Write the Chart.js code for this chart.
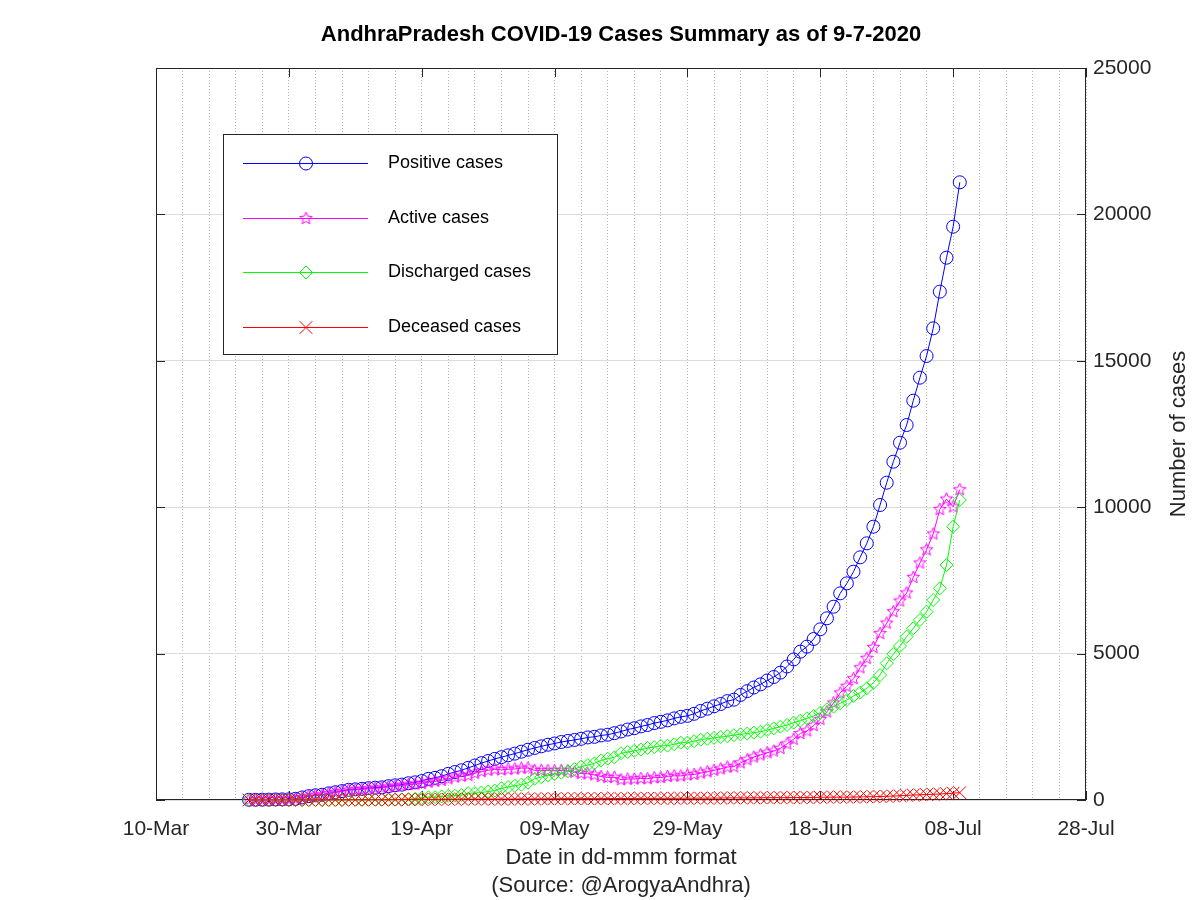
<!DOCTYPE html>
<html>
<head>
<meta charset="utf-8">
<title>AndhraPradesh COVID-19 Cases Summary</title>
<script src="https://cdn.jsdelivr.net/npm/chart.js@4.4.1/dist/chart.umd.min.js"></script>
<style>
  html, body { margin: 0; padding: 0; background: #fff; }
  #wrap { width: 1200px; height: 900px; }
</style>
</head>
<body>
<div id="wrap"><canvas id="chart" width="1200" height="900"></canvas></div>
<script>
(() => {
  "use strict";

  // ---------- data: daily bulletins 24-Mar .. 09-Jul 2020 ----------
  const FIRST_DAY = 14; // 24-Mar, counted in days after 10-Mar
  const xTickLabels = ["10-Mar", "30-Mar", "19-Apr", "09-May", "29-May", "18-Jun", "08-Jul", "28-Jul"];
  const yTickValues = [0, 5000, 10000, 15000, 20000, 25000];
  const seriesNames = ["Positive cases", "Active cases", "Discharged cases", "Deceased cases"];

  const positive = [
    8, 8, 11, 13, 19, 21, 23, 40,
    87, 132, 161, 180, 226, 266, 304, 348, 363, 381,
    405, 420, 432, 473, 502, 525, 572, 603, 647, 722,
    757, 813, 893, 955, 1016, 1097, 1177, 1259, 1332, 1403,
    1463, 1525, 1583, 1650, 1717, 1777, 1833, 1887, 1930, 1980,
    2018, 2051, 2090, 2137, 2157, 2205, 2230, 2282, 2339, 2407,
    2452, 2514, 2561, 2627, 2671, 2719, 2787, 2841, 2874, 2944, 3042,
    3118, 3200, 3279, 3377, 3427, 3588, 3718, 3843, 3950, 4080,
    4200, 4350, 4560, 4800, 5066, 5237, 5499, 5830, 6206, 6601,
    7058, 7400, 7797, 8288, 8766, 9335, 10075, 10838, 11554, 12204,
    12807, 13638, 14424, 15164, 16109, 17361, 18521, 19580, 21096,
  ];
  const active = [
    8, 8, 10, 12, 18, 20, 22, 39,
    86, 131, 159, 176, 222, 262, 294, 338, 348, 365,
    388, 402, 413, 450, 475, 495, 523, 546, 565, 610,
    639, 669, 725, 783, 814, 835, 911, 970, 1014, 1051,
    1029, 1051, 1059, 1090, 1092, 1012, 1015, 1004, 999, 1006,
    997, 949, 902, 897, 857, 804, 769, 776, 693, 716,
    719, 736, 727, 764, 767, 805, 826, 823, 856, 873, 918,
    962, 1016, 1061, 1126, 1139, 1270, 1375, 1468, 1540, 1612,
    1673, 1764, 1917, 2076, 2273, 2361, 2542, 2756, 3013, 3317,
    3660, 3887, 4144, 4517, 4840, 5214, 5687, 6042, 6432, 6798,
    7071, 7605, 8096, 8546, 9085, 9925, 10277, 10013, 10598,
  ];
  const discharged = [
    0, 0, 1, 1, 1, 1, 1, 1,
    1, 1, 1, 1, 1, 1, 6, 6, 9, 10,
    11, 11, 12, 14, 16, 16, 35, 42, 65, 92,
    96, 120, 141, 145, 171, 231, 235, 258, 287, 321,
    403, 441, 488, 524, 589, 729, 780, 842, 887, 929,
    975, 1056, 1142, 1192, 1252, 1353, 1412, 1456, 1596, 1639,
    1680, 1723, 1778, 1807, 1848, 1856, 1903, 1958, 1958, 2009, 2062,
    2092, 2120, 2150, 2180, 2215, 2245, 2270, 2300, 2333, 2390,
    2447, 2504, 2561, 2640, 2709, 2790, 2869, 2982, 3097, 3188,
    3302, 3415, 3552, 3665, 3815, 4007, 4269, 4668, 4986, 5260,
    5579, 5864, 6148, 6431, 6831, 7230, 8026, 9335, 10246,
  ];
  const deceased = [
    0, 0, 0, 0, 0, 0, 0, 0,
    0, 0, 1, 3, 3, 3, 4, 4, 6, 6,
    6, 7, 7, 9, 11, 14, 14, 15, 17, 20,
    22, 24, 27, 27, 31, 31, 31, 31, 31, 31,
    31, 33, 36, 36, 36, 36, 38, 41, 44, 45,
    46, 46, 46, 48, 48, 48, 49, 50, 50, 52,
    53, 55, 56, 56, 56, 58, 58, 60, 60, 62, 62,
    64, 64, 68, 71, 73, 73, 73, 75, 77, 78,
    80, 82, 82, 84, 84, 86, 88, 92, 96, 96,
    96, 98, 101, 106, 111, 114, 119, 128, 136, 146,
    157, 169, 180, 187, 193, 206, 218, 232, 252,
  ];

  // ---------- style ----------
  const FONT = "'Liberation Sans', Arial, Helvetica, sans-serif";
  const AXIS_COLOR = "#262626";
  const BLUE = "#0000ff";
  const MAGENTA = "#ff00ff";
  const GREEN = "#00ff00";
  const RED = "#ff0000";

  const toXY = (arr) => arr.map((y, i) => ({ x: FIRST_DAY + i, y }));

  // five-pointed outline star, Chart.js has none
  function starImage(color, r) {
    const c = document.createElement("canvas");
    const s = Math.ceil(r * 2 + 4);
    c.width = s;
    c.height = s;
    const g = c.getContext("2d");
    g.strokeStyle = color;
    g.lineWidth = 1;
    g.beginPath();
    for (let k = 0; k < 10; k++) {
      const rad = k % 2 === 0 ? r : r * 0.45;
      const a = -Math.PI / 2 + (k * Math.PI) / 5;
      const px = s / 2 + rad * Math.cos(a);
      const py = s / 2 + rad * Math.sin(a);
      if (k === 0) g.moveTo(px, py);
      else g.lineTo(px, py);
    }
    g.closePath();
    g.stroke();
    return c;
  }
  const STAR = starImage(MAGENTA, 6.5);

  function lineDataset(label, data, color, style, radius, order) {
    return {
      label,
      data: toXY(data),
      borderColor: color,
      backgroundColor: "rgba(0,0,0,0)",
      borderWidth: 1,
      pointStyle: style,
      pointRadius: radius,
      pointBorderColor: color,
      pointBackgroundColor: "rgba(0,0,0,0)",
      pointBorderWidth: 1,
      tension: 0,
      fill: false,
      clip: false,
      order,
    };
  }

  const datasets = [
    lineDataset(seriesNames[0], positive, BLUE, "circle", 6.5, 4),
    lineDataset(seriesNames[1], active, MAGENTA, STAR, 6.5, 3),
    lineDataset(seriesNames[2], discharged, GREEN, "rectRot", 6.5, 2),
    lineDataset(seriesNames[3], deceased, RED, "crossRot", 9, 1),
  ];

  // ---------- hand-drawn parts: frame, inward ticks, title, legend ----------
  function drawMarker(ctx, style, x, y, r, color) {
    ctx.save();
    ctx.strokeStyle = color;
    ctx.lineWidth = 1;
    ctx.beginPath();
    if (style === "circle") {
      ctx.arc(x, y, r, 0, Math.PI * 2);
    } else if (style === "rectRot") {
      ctx.moveTo(x - r, y);
      ctx.lineTo(x, y - r);
      ctx.lineTo(x + r, y);
      ctx.lineTo(x, y + r);
      ctx.closePath();
    } else if (style === "crossRot") {
      const d = r * Math.SQRT1_2;
      ctx.moveTo(x - d, y - d);
      ctx.lineTo(x + d, y + d);
      ctx.moveTo(x + d, y - d);
      ctx.lineTo(x - d, y + d);
    } else {
      ctx.drawImage(style, x - style.width / 2, y - style.height / 2);
    }
    ctx.stroke();
    ctx.restore();
  }

  const framePlugin = {
    id: "frame",
    beforeDatasetsDraw(chart) {
      const { ctx, chartArea: a, scales } = chart;
      ctx.save();
      ctx.strokeStyle = AXIS_COLOR;
      ctx.lineWidth = 1;
      ctx.strokeRect(a.left + 0.5, a.top + 0.5, a.right - a.left - 1, a.bottom - a.top - 1);
      ctx.beginPath();
      xTickLabels.forEach((_, i) => {
        const px = Math.round(scales.x.getPixelForValue(i * 20)) + 0.5;
        ctx.moveTo(px, a.bottom);
        ctx.lineTo(px, a.bottom - 9);
        ctx.moveTo(px, a.top);
        ctx.lineTo(px, a.top + 9);
      });
      yTickValues.forEach((v) => {
        const py = Math.round(scales.y.getPixelForValue(v)) + 0.5;
        ctx.moveTo(a.left, py);
        ctx.lineTo(a.left + 9, py);
        ctx.moveTo(a.right, py);
        ctx.lineTo(a.right - 9, py);
      });
      ctx.stroke();
      ctx.restore();
    },
    afterDraw(chart) {
      const { ctx, chartArea: a } = chart;
      ctx.save();
      // title
      ctx.fillStyle = "#000";
      ctx.font = `bold 22px ${FONT}`;
      ctx.textAlign = "center";
      ctx.textBaseline = "middle";
      ctx.fillText("AndhraPradesh COVID-19 Cases Summary as of 9-7-2020", (a.left + a.right) / 2, 35);

      // right-hand y title, reading upwards
      ctx.fillStyle = AXIS_COLOR;
      ctx.font = `22px ${FONT}`;
      ctx.translate(1179, (a.top + a.bottom) / 2);
      ctx.rotate(-Math.PI / 2);
      ctx.fillText("Number of cases", 0, 0);
      ctx.restore();

      // legend box
      ctx.save();
      ctx.fillStyle = "#fff";
      ctx.fillRect(223, 134, 334, 220);
      ctx.strokeStyle = AXIS_COLOR;
      ctx.lineWidth = 1;
      ctx.strokeRect(223.5, 134.5, 334, 220);
      const rows = [163, 218, 272, 327];
      ctx.font = `18px ${FONT}`;
      ctx.textBaseline = "middle";
      ctx.textAlign = "left";
      datasets.forEach((d, i) => {
        const y = rows[i] + 0.5;
        ctx.strokeStyle = d.borderColor;
        ctx.beginPath();
        ctx.moveTo(243, y);
        ctx.lineTo(368, y);
        ctx.stroke();
        drawMarker(ctx, d.pointStyle, 306, y, d.pointRadius, d.borderColor);
        ctx.fillStyle = "#000";
        ctx.fillText(d.label, 388, rows[i]);
      });
      ctx.restore();
    },
  };

  new Chart(document.getElementById("chart"), {
    type: "line",
    data: { datasets },
    plugins: [framePlugin],
    options: {
      responsive: false,
      animation: false,
      devicePixelRatio: 1,
      layout: { padding: { left: 156, top: 68, right: 0, bottom: 0 } },
      plugins: {
        legend: { display: false },
        title: { display: false },
        tooltip: { enabled: false },
      },
      scales: {
        x: {
          type: "linear",
          min: 0,
          max: 140,
          afterFit: (s) => { s.height = 100; },
          grid: { color: "#b4b4b4", lineWidth: 1, drawTicks: false },
          border: { display: false, dash: [1, 2] },
          ticks: {
            stepSize: 4,
            autoSkip: false,
            maxRotation: 0,
            padding: 17,
            color: AXIS_COLOR,
            font: { family: FONT, size: 21 },
            callback: (v) => (v % 20 === 0 ? xTickLabels[v / 20] : ""),
          },
          title: {
            display: true,
            text: ["Date in dd-mmm format", "(Source: @ArogyaAndhra)"],
            color: AXIS_COLOR,
            font: { family: FONT, size: 22, lineHeight: 28 / 22 },
            padding: { top: 0, bottom: 0 },
          },
        },
        y: {
          position: "right",
          min: 0,
          max: 25000,
          afterFit: (s) => { s.width = 114; },
          grid: { color: "#dcdcdc", lineWidth: 1, drawTicks: false },
          border: { display: false },
          ticks: {
            stepSize: 5000,
            padding: 7,
            color: AXIS_COLOR,
            font: { family: FONT, size: 21 },
            callback: (v) => String(v),
          },
        },
      },
    },
  });
})();
</script>
</body>
</html>
